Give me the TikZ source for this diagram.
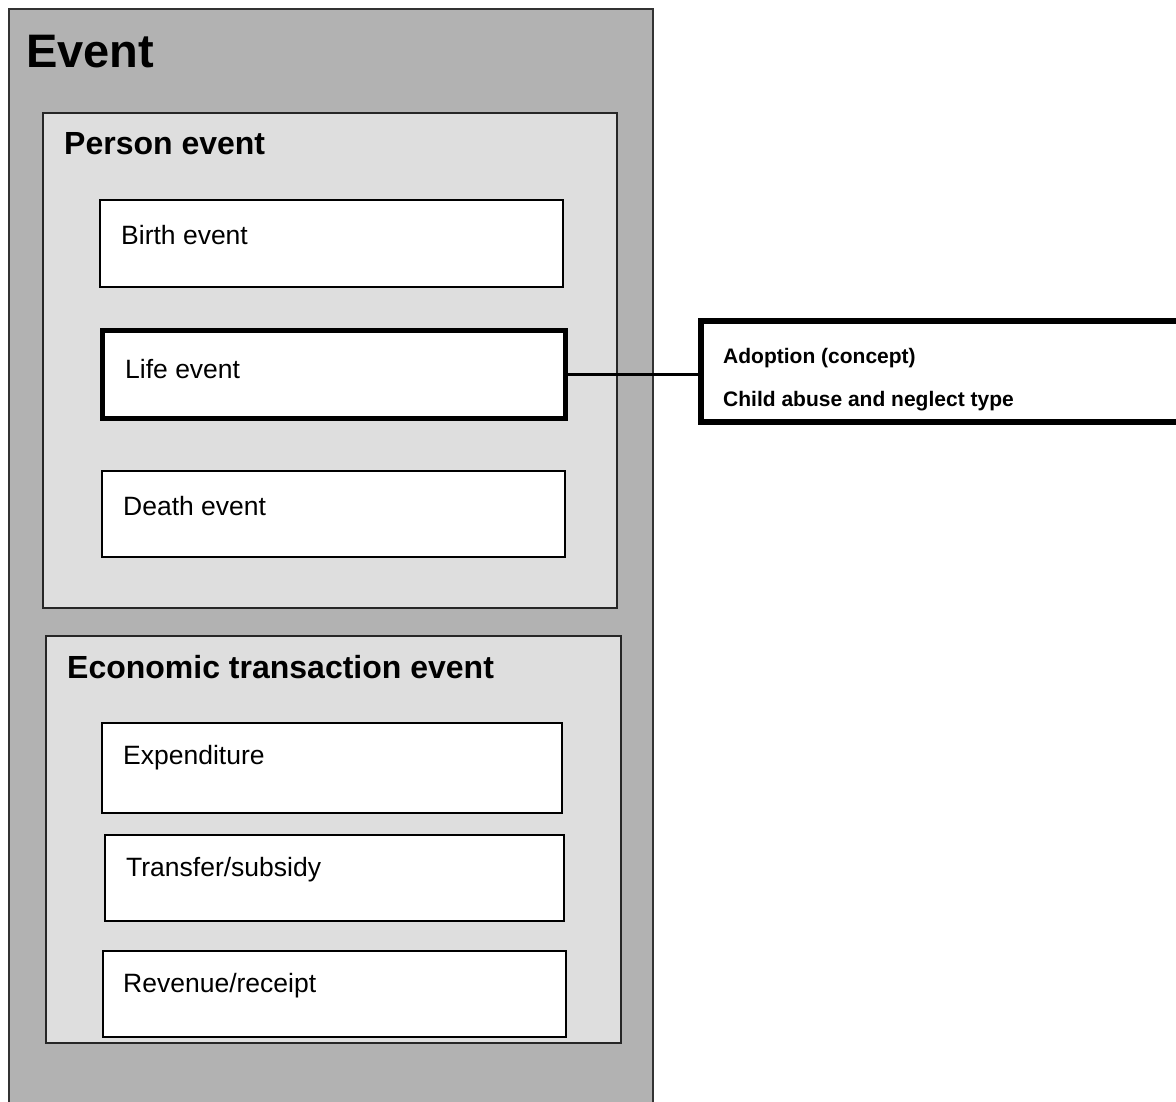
\documentclass[tikz,border=0pt]{standalone}
\usepackage{fontspec}
\setmainfont{Liberation Sans}
\begin{document}
\begin{tikzpicture}[x=1pt,y=-1pt,
  outerbox/.style={draw=black!80,line width=1.5pt,fill=black!30},
  groupbox/.style={draw=black!85,line width=1.5pt,fill=black!13},
  itembox/.style={draw=black,line width=2pt,fill=white,outer sep=0pt,anchor=north west},
  focusbox/.style={draw=black,line width=5pt,fill=white,outer sep=0pt,anchor=north west},
  notebox/.style={draw=black,line width=6pt,fill=white,outer sep=0pt,anchor=north west},
  link/.style={draw=black,line width=3pt},
  lbl/.style={anchor=base west,inner sep=0pt,font=\fontsize{26.5}{30}\selectfont},
  grouplbl/.style={anchor=base west,inner sep=0pt,font=\bfseries\fontsize{32}{36}\selectfont},
  notelbl/.style={anchor=base west,inner sep=0pt,font=\bfseries\fontsize{21}{24}\selectfont}]
\useasboundingbox (0,0) rectangle (1176,1102);
% outermost container
\filldraw[outerbox] (9,9) rectangle (653,1115);
\node[anchor=base west,inner sep=0pt,font=\bfseries\fontsize{47}{52}\selectfont] (evt) at (26,68) {Event};
% person events
\filldraw[groupbox] (43,113) rectangle (617,608);
\node[grouplbl] (pev) at (64,155) {Person event};
\node[itembox,minimum width=463pt,minimum height=87pt] (birth) at (100,200) {};
\node[lbl] at (121,245) {Birth event};
\node[focusbox,minimum width=463pt,minimum height=88pt] (life) at (102.5,330.5) {};
\node[lbl] at (125,378) {Life event};
\node[itembox,minimum width=463pt,minimum height=86pt] (death) at (102,471) {};
\node[lbl] at (123,515) {Death event};
% economic transaction events
\filldraw[groupbox] (46,636) rectangle (621,1043);
\node[itembox,minimum width=460pt,minimum height=90pt] (expend) at (102,723) {};
\node[grouplbl] (eco) at (67,678) {Economic transaction event};
\node[lbl] at (123,764) {Expenditure};
\node[itembox,minimum width=459pt,minimum height=86pt] (transfer) at (105,835) {};
\node[lbl] at (126,876) {Transfer/subsidy};
\node[itembox,minimum width=463pt,minimum height=86pt] (revenue) at (103,951) {};
\node[lbl] at (123,992) {Revenue/receipt};
% related concepts
\node[notebox,minimum width=500pt,minimum height=101pt] (note) at (701,321) {};
\node[notelbl] at (723,363) {Adoption (concept)};
\node[notelbl] at (723,406) {Child abuse and neglect type};
\draw[link] (life.east) -- (note.west |- life.east);
\end{tikzpicture}
\end{document}
